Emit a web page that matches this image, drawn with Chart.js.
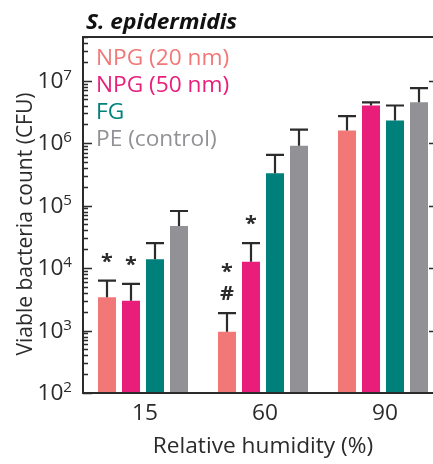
<!DOCTYPE html>
<html>
<head>
<meta charset="utf-8">
<title>S. epidermidis – viable count vs humidity</title>
<script src="https://cdn.jsdelivr.net/npm/chart.js@4.4.1/dist/chart.umd.min.js"></script>
<style>
  html, body { margin: 0; padding: 0; background: #fff; overflow: hidden; }
  #wrap { width: 433px; height: 464px; overflow: hidden; }
  canvas { display: block; }
</style>
</head>
<body>
<div id="wrap"><canvas id="chart-humidity" width="460" height="464"></canvas></div>
<script>
// Viable S. epidermidis counts (CFU) on each surface after exposure
// at three relative-humidity levels. Means and SD (upper error bar).
const humidity     = ['15', '60', '90'];
const seriesLabels = ['NPG (20 nm)', 'NPG (50 nm)', 'FG', 'PE (control)'];

const npg20   = [3400, 960, 1600000];
const npg20Sd = [2900, 940, 1100000];
const npg50   = [3000, 12600, 4000000];
const npg50Sd = [2600, 12400, 500000];
const fg      = [13800, 330000, 2300000];
const fgSd    = [11200, 320000, 1700000];
const pe      = [47000, 910000, 4500000];
const peSd    = [35000, 740000, 3100000];

// Significance marks: [dataset index, humidity index, symbols bottom-up]
const marks = [
  [0, 0, ['*']],
  [1, 0, ['*']],
  [0, 1, ['#', '*']],
  [1, 1, ['*']],
];

const yTickExps = [2, 3, 4, 5, 6, 7];

const COLORS = ['#f27878', '#e81e7a', '#00807a', '#929296'];
const INK    = '#2b2b2b';
const FONT   = '"Open Sans", "Noto Sans", sans-serif';
const WIDE   = 1.08;  // text is set slightly expanded

const values = [npg20, npg50, fg, pe];
const errors = [npg20Sd, npg50Sd, fgSd, peSd];

/** fillText with a horizontal stretch around the anchor point. */
function wideText(ctx, text, x, y, sx = WIDE) {
  ctx.save();
  ctx.translate(x, y);
  ctx.scale(sx, 1);
  ctx.fillText(text, 0, 0);
  ctx.restore();
}

/** Upper error bars drawn on top of each bar. */
const errorBars = {
  id: 'errorBars',
  afterDatasetsDraw(chart) {
    const { ctx, scales: { y } } = chart;
    ctx.save();
    ctx.strokeStyle = INK;
    ctx.lineWidth = 2.2;
    values.forEach((_, i) => {
      chart.getDatasetMeta(i).data.forEach((bar, j) => {
        const top = y.getPixelForValue(values[i][j] + errors[i][j]);
        const half = bar.width / 2;
        ctx.beginPath();
        ctx.moveTo(bar.x, bar.y);
        ctx.lineTo(bar.x, top);
        ctx.moveTo(bar.x - half, top);
        ctx.lineTo(bar.x + half, top);
        ctx.stroke();
      });
    });

    // significance symbols above the error caps
    ctx.fillStyle = INK;
    ctx.textAlign = 'center';
    ctx.textBaseline = 'alphabetic';
    ctx.font = `bold 20px ${FONT}`;
    marks.forEach(([i, j, syms]) => {
      const bar = chart.getDatasetMeta(i).data[j];
      let base = y.getPixelForValue(values[i][j] + errors[i][j]) - 13;
      syms.forEach((s) => {
        wideText(ctx, s, bar.x, base);
        base -= 22;
      });
    });
    ctx.restore();
  },
};

/** Frame, inward log ticks, labels, titles and the text-only legend. */
const frame = {
  id: 'frame',
  afterDraw(chart) {
    const { ctx, chartArea: a, scales: { x, y } } = chart;
    ctx.save();

    // frame: left, bottom and top rules
    ctx.strokeStyle = INK;
    ctx.lineWidth = 2;
    ctx.beginPath();
    ctx.moveTo(a.right + 5, a.top);
    ctx.lineTo(a.left, a.top);
    ctx.lineTo(a.left, a.bottom);
    ctx.lineTo(a.right + 5, a.bottom);
    ctx.stroke();

    // log ticks pointing into the plot
    ctx.lineWidth = 1.5;
    ctx.beginPath();
    for (let e = 2; e <= 7; e++) {
      for (let m = 1; m <= 9; m++) {
        const v = m * Math.pow(10, e);
        if (v > y.max) break;
        const py = Math.round(y.getPixelForValue(v)) + 0.5;
        ctx.moveTo(a.left, py);
        ctx.lineTo(a.left + (m === 1 ? 9 : 5), py);
      }
    }
    ctx.stroke();

    // short dashes on the far right at each decade
    ctx.beginPath();
    yTickExps.slice(1).forEach((e) => {
      const py = Math.round(y.getPixelForValue(Math.pow(10, e))) + 0.5;
      ctx.moveTo(429, py);
      ctx.lineTo(434, py);
    });
    ctx.stroke();

    // y tick labels: 10 with superscript exponent
    ctx.fillStyle = INK;
    ctx.textBaseline = 'alphabetic';
    yTickExps.forEach((e) => {
      const py = y.getPixelForValue(Math.pow(10, e));
      ctx.font = `14px ${FONT}`;
      const expW = ctx.measureText(String(e)).width * WIDE;
      ctx.textAlign = 'left';
      wideText(ctx, String(e), 72 - expW, py - 1);
      ctx.font = `21px ${FONT}`;
      ctx.textAlign = 'right';
      wideText(ctx, '10', 72 - expW, py + 7);
    });

    // x tick labels
    ctx.font = `21px ${FONT}`;
    ctx.textAlign = 'center';
    humidity.forEach((lab, j) => {
      wideText(ctx, lab, x.getPixelForValue(j) + 2, 420);
    });

    // axis titles
    wideText(ctx, 'Relative humidity (%)', (a.left + a.right) / 2, 453);
    ctx.save();
    ctx.translate(32, 224);
    ctx.rotate(-Math.PI / 2);
    ctx.scale(1, WIDE);
    ctx.fillText('Viable bacteria count (CFU)', 0, 0);
    ctx.restore();

    // panel title
    ctx.font = `italic bold 21px ${FONT}`;
    ctx.textAlign = 'left';
    ctx.fillStyle = '#111';
    wideText(ctx, 'S. epidermidis', 86, 29);

    // legend: coloured labels only
    ctx.font = `21px ${FONT}`;
    seriesLabels.forEach((lab, i) => {
      ctx.fillStyle = COLORS[i];
      wideText(ctx, lab, 96, 65 + i * 27);
    });

    ctx.restore();
  },
};

new Chart(document.getElementById('chart-humidity'), {
  type: 'bar',
  data: {
    labels: humidity,
    datasets: seriesLabels.map((label, i) => ({
      label,
      data: values[i],
      backgroundColor: COLORS[i],
      borderWidth: 0,
      categoryPercentage: 0.8,
      barPercentage: 0.75,
    })),
  },
  options: {
    responsive: false,
    animation: false,
    layout: { padding: { left: 83, top: 37, right: 17, bottom: 71 } },
    plugins: {
      legend: { display: false },
      tooltip: { enabled: false },
    },
    scales: {
      x: { display: false, offset: true },
      y: { display: false, type: 'logarithmic', min: 100, max: 5e7 },
    },
  },
  plugins: [errorBars, frame],
});
</script>
</body>
</html>
